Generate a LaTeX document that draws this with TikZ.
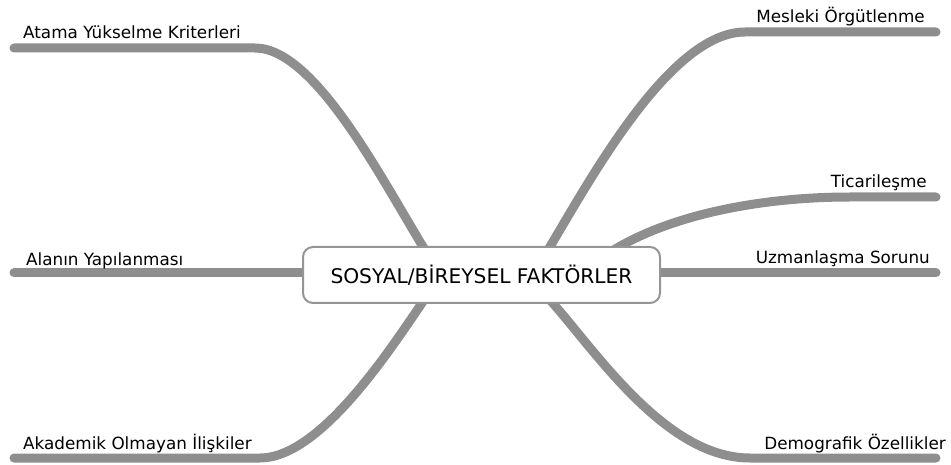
\documentclass[tikz,border=0pt]{standalone}
\usepackage{fontspec}
\setmainfont{DejaVu Sans}
\definecolor{branchgray}{HTML}{8E8E8E}
\definecolor{boxgray}{HTML}{959595}
\begin{document}
\begin{tikzpicture}[x=1pt,y=-1pt,
  branch/.style={draw=branchgray,line width=9pt,line cap=round},
  lbl/.style={inner sep=0pt,font=\fontsize{16.8}{20}\selectfont},
  centerbox/.style={draw=boxgray,line width=2pt,fill=white,rounded corners=10pt,
    minimum width=357pt,minimum height=56pt,inner sep=0pt,
    font=\fontsize{20.2}{24}\selectfont}]
\useasboundingbox (0,0) rectangle (951,465);
% attachment and end coordinates
\coordinate (a1) at (425,250);
\coordinate (e1) at (14,48);
\coordinate (a2) at (548,250);
\coordinate (e2) at (936,32);
\coordinate (a3) at (612,251);
\coordinate (e3) at (936,197);
\coordinate (a4) at (600,273);
\coordinate (e4) at (936,273);
\coordinate (a5) at (360,273);
\coordinate (e5) at (14,273);
\coordinate (a6) at (424,300);
\coordinate (e6) at (14,458);
\coordinate (a7) at (550,300);
\coordinate (e7) at (936,458);
% branches
\draw[branch] (a1) .. controls (382,180) and (315,48) .. (255,48) -- (e1);
\draw[branch] (a2) .. controls (590,180) and (670,32) .. (745,32) -- (e2);
\draw[branch] (a3) .. controls (670,215) and (760,197) .. (850,197) -- (e3);
\draw[branch] (a4) -- (e4);
\draw[branch] (a5) -- (e5);
\draw[branch] (a6) .. controls (390,350) and (320,458) .. (260,458) -- (e6);
\draw[branch] (a7) .. controls (595,350) and (665,458) .. (750,458) -- (e7);
% center
\node[centerbox] (c) at (481.5,275) {SOSYAL/BİREYSEL FAKTÖRLER};
% labels
\node[lbl,anchor=base west] (l1) at (23,39) {Atama Yükselme Kriterleri};
\node[lbl,anchor=base east] (l2) at (925,23) {Mesleki Örgütlenme};
\node[lbl,anchor=base east] (l3) at (927,188) {Ticarileşme};
\node[lbl,anchor=base east] (l4) at (930,264) {Uzmanlaşma Sorunu};
\node[lbl,anchor=base west] (l5) at (26,266) {Alanın Yapılanması};
\node[lbl,anchor=base west] (l6) at (23,449) {Akademik Olmayan İlişkiler};
\node[lbl,anchor=base east] (l7) at (946,449) {Demografik Özellikler};
\end{tikzpicture}
\end{document}
